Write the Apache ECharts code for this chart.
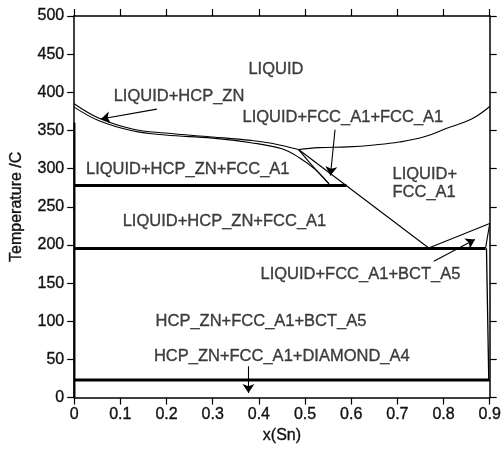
<!DOCTYPE html>
<html><head><meta charset="utf-8">
<script src="https://cdn.jsdelivr.net/npm/echarts@6/dist/echarts.min.js"></script>
<style>html,body{margin:0;padding:0;background:#fff}#c{width:504px;height:449px}</style>
</head><body><div id="c"></div>
<script>
// ---- tick labels ----
const xTickLabels = ['0','0.1','0.2','0.3','0.4','0.5','0.6','0.7','0.8','0.9'];
const yTickLabels = ['0','50','100','150','200','250','300','350','400','450','500'];

// ---- phase boundaries [x(Sn), T/C] ----
const hcpLiquidusUpper = [[0,385],[0.054,366],[0.126,352],[0.197,346.6],[0.3,341.5],[0.383,337],[0.43,333],[0.486,325]];
const hcpLiquidusLower = [[0,380.6],[0.054,362.7],[0.126,349.6],[0.197,344],[0.3,340],[0.383,334],[0.45,326],[0.486,315],[0.522,299],[0.552,280]];
const fccLensBoundary = [[0.486,325],[0.52,301],[0.552,280]];
const fccSolidusDiagonal = [[0.486,325],[0.768,196]];
const fccLiquidus = [[0.486,325],[0.53,327.5],[0.593,328.5],[0.65,331],[0.704,334.8],[0.76,342],[0.807,353],[0.861,365],[0.9,381.4]];
const bctLiquidus = [[0.768,196],[0.9,228]];
const bctSolidus = [[0.9,228],[0.891,195.5]];
const bctSolvus = [[0.893,195.5],[0.898,23]];
const zincSolvus = [[0.0006,0],[0.0006,360]];
const isotherm278 = [[0,278],[0.5895,278]];
const isotherm196 = [[0,195.5],[0.891,195.5]];
const isotherm23 = [[0,23],[0.9,23]];

// ---- region labels ----
const regionLabels = [
  {name:'LIQUID', value:[0.437,429.4]},
  {name:'LIQUID+HCP_ZN', value:[0.227,394]},
  {name:'LIQUID+FCC_A1+FCC_A1', value:[0.582,366.6]},
  {name:'LIQUID+HCP_ZN+FCC_A1', value:[0.246,298.6]},
  {name:'LIQUID+HCP_ZN+FCC_A1', value:[0.3255,230.7]},
  {name:'LIQUID+FCC_A1+BCT_A5', value:[0.620,161.3]},
  {name:'HCP_ZN+FCC_A1+BCT_A5', value:[0.4047,99.9]},
  {name:'HCP_ZN+FCC_A1+DIAMOND_A4', value:[0.4497,54]}
];
const regionLabelsLeft = [
  {name:'LIQUID+', value:[0.6895,292]},
  {name:'FCC_A1', value:[0.6895,268.6]}
];
// ---- arrows [from, to] ----
const arrows = [
  [[0.179,378],[0.058,365]],
  [[0.565,351],[0.555,291]],
  [[0.779,178.7],[0.868,207]],
  [[0.3775,41],[0.3775,6]]
];

const FONT = '"Liberation Sans", Arial, sans-serif';
const INK = '#000';
const TXT = {fontFamily:FONT, color:'#111', textBorderColor:'#111', textBorderWidth:0.35};

function curve(data, width, smooth) {
  return {type:'line', data:data, showSymbol:false, symbol:'none', smooth:smooth||false,
    lineStyle:{color:INK, width:width}, silent:true, animation:false, z:3};
}

const axisCommon = {
  min:0, axisLine:{show:true, onZero:false, lineStyle:{color:INK, width:1.5}},
  axisTick:{show:true, inside:false, length:7, lineStyle:{color:INK, width:1.2}},
  splitLine:{show:false}
};

const chart = echarts.init(document.getElementById('c'));
chart.setOption({
  backgroundColor:'#fff',
  animation:false,
  grid:{left:73, right:10.3, top:16, bottom:50.7, containLabel:false},
  xAxis:[
    Object.assign({}, axisCommon, {type:'value', position:'bottom', max:0.9, interval:0.1,
      name:'x(Sn)', nameLocation:'middle', nameGap:30,
      nameTextStyle:Object.assign({fontSize:16}, TXT),
      axisLabel:Object.assign({show:true, margin:9, fontSize:16,
        formatter:v=>xTickLabels[Math.round(v*10)]}, TXT)}),
    Object.assign({}, axisCommon, {type:'value', position:'top', max:0.9, interval:0.1,
      axisLabel:{show:false}})
  ],
  yAxis:[
    Object.assign({}, axisCommon, {type:'value', position:'left', max:500, interval:50,
      name:'Temperature /C', nameLocation:'middle', nameGap:50, nameRotate:90,
      nameTextStyle:Object.assign({fontSize:16}, TXT),
      axisLabel:Object.assign({show:true, margin:10, fontSize:16,
        formatter:v=>yTickLabels[Math.round(v/50)]}, TXT)}),
    Object.assign({}, axisCommon, {type:'value', position:'right', max:500, interval:50,
      axisLabel:{show:false}})
  ],
  series:[
    curve(hcpLiquidusUpper, 1.1, 0.4),
    curve(hcpLiquidusLower, 1.1, 0.4),
    curve(fccLensBoundary, 1.1, 0.3),
    curve(fccSolidusDiagonal, 1.1),
    curve(fccLiquidus, 1.1, 0.4),
    curve(bctLiquidus, 1.1),
    curve(bctSolidus, 1.1),
    curve(bctSolvus, 1.3),
    curve(zincSolvus, 2),
    curve(isotherm278, 3),
    curve(isotherm196, 3),
    curve(isotherm23, 3),
    {type:'lines', coordinateSystem:'cartesian2d', silent:true, animation:false, z:4,
      symbol:['none','arrow'], symbolSize:[1,9],
      lineStyle:{color:INK, width:1.1, opacity:1},
      data:arrows.map(a=>({coords:a}))},
    {type:'scatter', data:regionLabels, symbolSize:1, itemStyle:{color:'rgba(0,0,0,0)'},
      silent:true, animation:false, z:5,
      label:Object.assign({show:true, position:'inside', formatter:'{b}', fontSize:16.5,
        align:'center', verticalAlign:'middle'}, TXT)},
    {type:'scatter', data:regionLabelsLeft, symbolSize:1, itemStyle:{color:'rgba(0,0,0,0)'},
      silent:true, animation:false, z:5,
      label:Object.assign({show:true, position:'inside', formatter:'{b}', fontSize:16.5,
        align:'left', verticalAlign:'middle'}, TXT)}
  ]
});
</script></body></html>
